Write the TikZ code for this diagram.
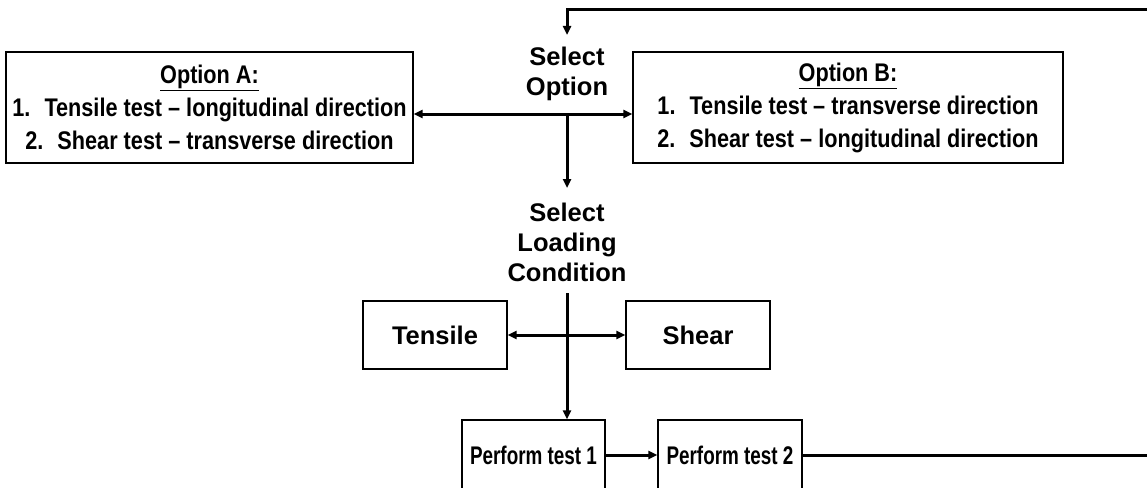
\documentclass[tikz,border=0pt]{standalone}
\usepackage{fontspec}
\setmainfont{Liberation Sans}
\newfontfamily\narrowsans{Liberation Sans}[FakeStretch=0.85]
\newfontfamily\testsans{Liberation Sans}[FakeStretch=0.74]
\usetikzlibrary{arrows.meta}
\tikzset{
  box/.style={draw, line width=1.4pt, minimum width=#1, align=center, inner sep=0pt},
  optbox/.style={box=#1, font=\narrowsans\bfseries\fontsize{25.5}{33}\selectfont},
  wordbox/.style={box=#1, font=\bfseries\fontsize{25.5}{31}\selectfont},
  testbox/.style={box=#1, font=\testsans\bfseries\fontsize{25.5}{31}\selectfont},
  lbl/.style={font=\bfseries\fontsize{25.5}{30}\selectfont, align=center, inner sep=0pt},
  tip/.tip={Triangle[length=9pt,width=8pt]},
  conn/.style={line width=3pt, -tip},
  both/.style={line width=3pt, tip-tip}
}
\begin{document}
\begin{tikzpicture}[x=1pt,y=1pt]
\useasboundingbox (0,0) rectangle (1147,-487);
\clip (0,0) rectangle (1147,-487);

% option selection
\node[lbl] (selopt) at (567,-74) {Select\\Option};
\node[optbox=407pt, minimum height=111pt] (optA) at (209.5,-107.5)
  {\underline{Option A:}\\1.\hspace{0.55em}Tensile test – longitudinal direction\\2.\hspace{0.55em}Shear test – transverse direction};
\node[optbox=430pt, minimum height=111pt] (optB) at (848,-107.5)
  {\underline{Option B:}\\1.\hspace{0.55em}Tensile test – transverse direction\\2.\hspace{0.55em}Shear test – longitudinal direction};
\coordinate (j1) at (567,-114);

% loading condition
\node[lbl] (selload) at (567,-242) {Select\\Loading\\Condition};
\node[wordbox=144pt, minimum height=68pt] (tens) at (435,-335) {Tensile};
\node[wordbox=144pt, minimum height=68pt] (shear) at (698,-335) {Shear};
\coordinate (j2) at (567,-335);

% tests
\node[testbox=143pt, minimum height=70pt] (pt1) at (533.5,-455) {Perform test 1};
\node[testbox=144pt, minimum height=70pt] (pt2) at (730,-455) {Perform test 2};

% feedback loop points
\coordinate (fbr) at (1170,-455);
\coordinate (fbtr) at (1170,-9.5);
\coordinate (fbtl) at (567,-9.5);
\coordinate (tipA) at (567,-35);
\coordinate (tipB) at (567,-188);
\coordinate (startC) at (567,-293);

% connectors
\draw[both] (optA.east |- j1) -- (optB.west |- j1);
\draw[conn] (j1) -- (tipB);
\draw[both] (tens.east) -- (shear.west);
\draw[conn] (startC) -- (pt1.north -| startC);
\draw[conn] (pt1.east |- pt2.west) -- (pt2.west);
\draw[conn] (pt2.east) -- (fbr) -- (fbtr) -- (fbtl) -- (tipA);
\end{tikzpicture}
\end{document}
